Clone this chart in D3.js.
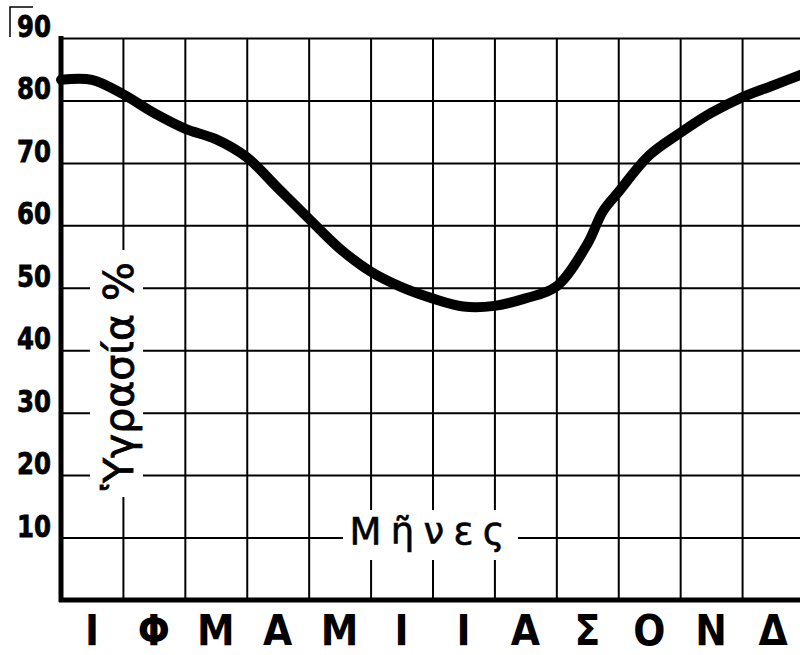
<!DOCTYPE html>
<html>
<head>
<meta charset="utf-8">
<script src="https://cdn.jsdelivr.net/npm/d3@7"></script>
<style>
  body { margin: 0; background: #fff; }
  svg { display: block; }
</style>
</head>
<body>
<script>
// months (greek initials) and y ticks
const months = ["Ι", "Φ", "Μ", "Α", "Μ", "Ι", "Ι", "Α", "Σ", "Ο", "Ν", "Δ"];
const yTicks = [10, 20, 30, 40, 50, 60, 70, 80, 90];

// humidity curve at half-month steps
const humidityPos = [0, 0.5, 1, 1.5, 2, 2.5, 3, 3.5, 4, 4.5, 5, 5.5, 6, 6.5, 7, 7.5, 8, 8.5, 8.75, 9, 9.5, 10, 10.5, 11, 11.5, 12];
const humidity    = [83.3, 83.3, 81, 78, 75.5, 73.8, 70.9, 66, 61.1, 56.3, 52.6, 50.1, 48.3, 47.0, 47.1, 48.3, 50.2, 57, 62.2, 65.3, 71.2, 74.8, 78, 80.5, 82.4, 84.3];

const yTitle = "Ὑγρασία %";
const xTitle = "Μῆνες";

const w = 800;
const h = 655;

const svg = d3.select("body")
  .append("svg")
  .attr("width", w)
  .attr("height", h);

const x = d3.scaleLinear().domain([0, 12]).range([61, 804]);
const y = d3.scaleLinear().domain([0, 90]).range([600, 38]);

// vertical grid
svg.append("g")
  .attr("transform", `translate(0,${y(0)})`)
  .call(d3.axisBottom(x).tickValues(d3.range(1, 13)).tickSize(-(y(0) - y(90))).tickFormat(""))
  .call(g => g.select(".domain").remove())
  .call(g => g.selectAll("line").attr("stroke", "#000").attr("stroke-width", 2));

// horizontal grid
svg.append("g")
  .attr("transform", `translate(${x(0)},0)`)
  .call(d3.axisLeft(y).tickValues(yTicks).tickSize(-(w - x(0))).tickFormat(""))
  .call(g => g.select(".domain").remove())
  .call(g => g.selectAll("line").attr("stroke", "#000").attr("stroke-width", 2));

// the curve
const line = d3.line()
  .x((d, i) => x(humidityPos[i]))
  .y(d => y(d))
  .curve(d3.curveCatmullRom.alpha(0.5));

svg.append("path")
  .datum(humidity)
  .attr("d", line)
  .attr("fill", "none")
  .attr("stroke", "#000")
  .attr("stroke-width", 10)
  .attr("stroke-linecap", "round");

// axes (thick)
svg.append("line")
  .attr("x1", x(0)).attr("x2", x(0))
  .attr("y1", y(90) - 2).attr("y2", y(0) + 2)
  .attr("stroke", "#000").attr("stroke-width", 5);

svg.append("line")
  .attr("x1", x(0) - 2).attr("x2", w)
  .attr("y1", y(0)).attr("y2", y(0))
  .attr("stroke", "#000").attr("stroke-width", 5);

// little corner mark top left
svg.append("path")
  .attr("d", "M10,37 L10,7 L33,7")
  .attr("fill", "none")
  .attr("stroke", "#000")
  .attr("stroke-width", 1.5);

// y tick labels
svg.selectAll(".ylab")
  .data(yTicks)
  .enter()
  .append("text")
  .attr("class", "ylab")
  .attr("x", 51)
  .attr("y", d => y(d) - 1)
  .attr("text-anchor", "end")
  .style("font-family", "'DejaVu Sans', sans-serif")
  .style("font-weight", "bold")
  .style("font-size", "30px")
  .attr("textLength", 34)
  .attr("lengthAdjust", "spacingAndGlyphs")
  .style("stroke", "#000")
  .style("stroke-width", 0.8)
  .text(d => d);

// month labels
svg.selectAll(".mlab")
  .data(months)
  .enter()
  .append("text")
  .attr("class", "mlab")
  .attr("x", (d, i) => x(i + 0.5))
  .attr("y", 645)
  .attr("text-anchor", "middle")
  .style("font-family", "'Liberation Sans Narrow', 'DejaVu Sans Condensed', sans-serif")
  .style("font-weight", "bold")
  .style("font-size", "42px")
  .text(d => d);

// y title with white mask
svg.append("rect")
  .attr("x", 90).attr("y", 250)
  .attr("width", 53).attr("height", 247)
  .attr("fill", "#fff");

svg.append("text")
  .attr("transform", "translate(133,376) rotate(-90)")
  .attr("text-anchor", "middle")
  .attr("textLength", 228)
  .attr("lengthAdjust", "spacingAndGlyphs")
  .style("font-family", "'DejaVu Sans', sans-serif")
  .style("font-size", "40px")
  .style("stroke", "#000")
  .style("stroke-width", 0.8)
  .text(yTitle);

// x title with white mask
svg.append("rect")
  .attr("x", 343).attr("y", 510)
  .attr("width", 175).attr("height", 50)
  .attr("fill", "#fff");

svg.append("text")
  .attr("x", 427)
  .attr("y", 544)
  .attr("text-anchor", "middle")
  .attr("textLength", 155)
  .attr("lengthAdjust", "spacing")
  .style("font-family", "'DejaVu Sans', sans-serif")
  .style("font-size", "37px")
  .style("stroke", "#000")
  .style("stroke-width", 0.6)
  .text(xTitle);
</script>
</body>
</html>
